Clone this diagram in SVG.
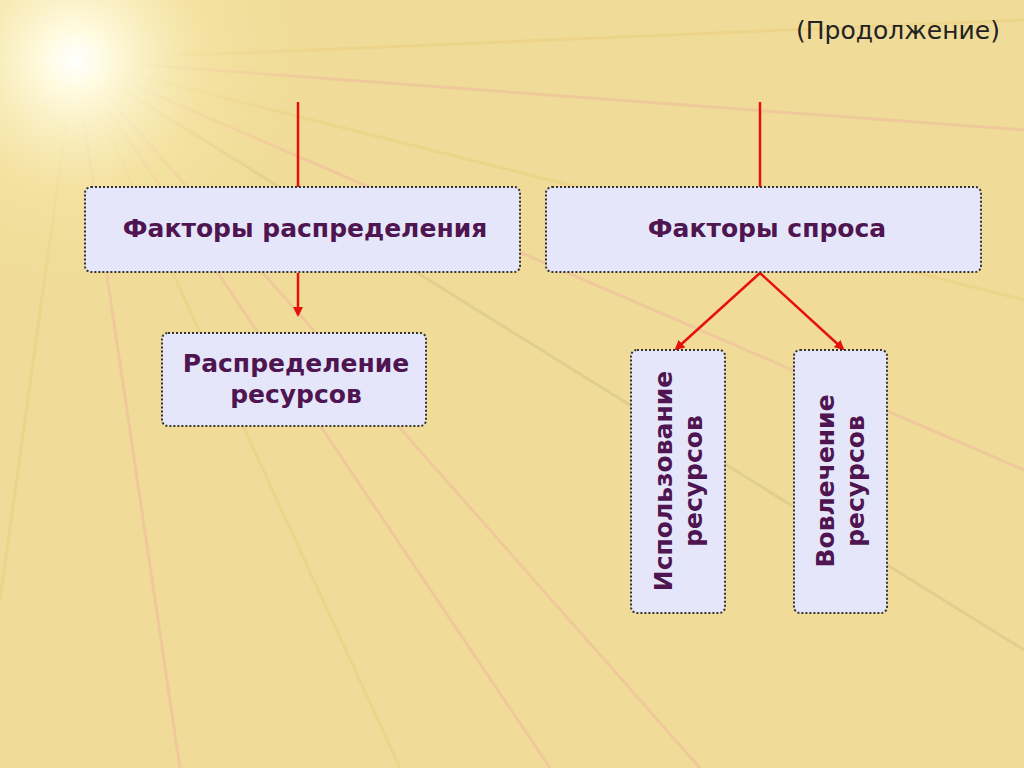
<svg xmlns="http://www.w3.org/2000/svg" width="1024" height="768" viewBox="0 0 1024 768">
<defs>
<radialGradient id="glow" cx="75" cy="60" r="260" gradientUnits="userSpaceOnUse">
<stop offset="0" stop-color="#ffffff"/>
<stop offset="0.12" stop-color="#fffbe0"/>
<stop offset="0.5" stop-color="#f7e6a8" stop-opacity="0.6"/>
<stop offset="1" stop-color="#f0dc98" stop-opacity="0"/>
</radialGradient>
<marker id="ah" markerWidth="10" markerHeight="10" refX="8" refY="5" orient="auto" markerUnits="userSpaceOnUse">
<path d="M0,0 L10,5 L0,10 Z" fill="#e8100a"/>
</marker>
<style>
.box{fill:#e6e6fa;stroke:#333;stroke-width:2;stroke-dasharray:2 2}
.t{font-family:"DejaVu Sans","Liberation Sans",sans-serif;font-weight:bold;font-size:25px;fill:#4e1550;text-anchor:middle}
.c{stroke:#e8100a;stroke-width:2.5;fill:none}
.ray{stroke-width:3;fill:none}
</style>
</defs>
<rect width="1024" height="768" fill="#f0dc98"/>
<g opacity="0.35">
<path class="ray" stroke="#f2a8a0" d="M75 60 L1024 470"/>
<path class="ray" stroke="#e8c870" d="M75 60 L1024 300"/>
<path class="ray" stroke="#f2a8a0" d="M75 60 L700 768"/>
<path class="ray" stroke="#e8c870" d="M75 60 L400 768"/>
<path class="ray" stroke="#f2a8a0" d="M75 60 L180 768"/>
<path class="ray" stroke="#e8c870" d="M75 60 L1024 20"/>
<path class="ray" stroke="#f2a8a0" d="M75 60 L1024 130"/>
<path class="ray" stroke="#c8b880" d="M75 60 L1024 650"/>
<path class="ray" stroke="#e8c870" d="M75 60 L0 600"/>
<path class="ray" stroke="#f2a8a0" d="M75 60 L550 768"/>
</g>
<rect width="1024" height="768" fill="url(#glow)"/>
<text x="898" y="39" font-family="DejaVu Sans, sans-serif" font-size="25" fill="#222" text-anchor="middle">(Продолжение)</text>
<g id="connectors">
<line class="c" x1="298" y1="102" x2="298" y2="187"/>
<line class="c" x1="298" y1="273" x2="298" y2="315" marker-end="url(#ah)"/>
<line class="c" x1="760" y1="102" x2="760" y2="187"/>
<line class="c" x1="760" y1="273" x2="676" y2="349" marker-end="url(#ah)"/>
<line class="c" x1="760" y1="273" x2="843" y2="349" marker-end="url(#ah)"/>
</g>
<g id="n1"><rect class="box" x="85" y="187" width="435" height="85" rx="6"/><text class="t" x="305" y="237">Факторы распределения</text></g>
<g id="n2"><rect class="box" x="546" y="187" width="435" height="85" rx="6"/><text class="t" x="767" y="237">Факторы спроса</text></g>
<g id="n3"><rect class="box" x="162" y="333" width="264" height="93" rx="6"/><text class="t" x="296" y="372">Распределение</text><text class="t" x="296" y="403">ресурсов</text></g>
<g id="n4"><rect class="box" x="631" y="350" width="94" height="263" rx="6"/><text class="t" transform="translate(672,481) rotate(-90)">Использование</text><text class="t" transform="translate(702,481) rotate(-90)">ресурсов</text></g>
<g id="n5"><rect class="box" x="794" y="350" width="93" height="263" rx="6"/><text class="t" transform="translate(834,481) rotate(-90)">Вовлечение</text><text class="t" transform="translate(864,481) rotate(-90)">ресурсов</text></g>
</svg>
